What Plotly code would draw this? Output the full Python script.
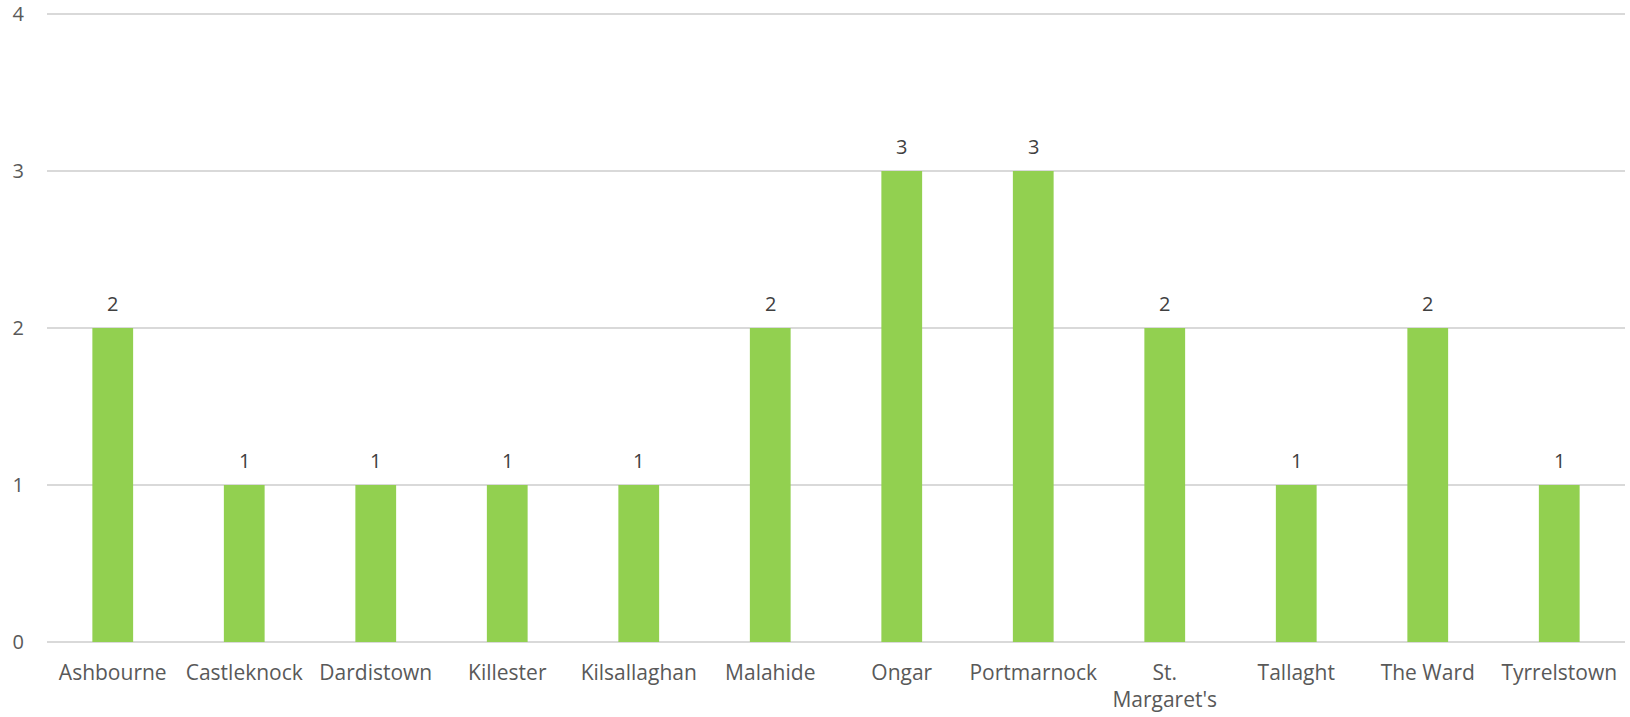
import plotly.graph_objects as go

categories = ["Ashbourne", "Castleknock", "Dardistown", "Killester", "Kilsallaghan",
              "Malahide", "Ongar", "Portmarnock", "St.<br>Margaret's", "Tallaght",
              "The Ward", "Tyrrelstown"]
values = [2, 1, 1, 1, 1, 2, 3, 3, 2, 1, 2, 1]
y_ticks = [0, 1, 2, 3, 4]

FONT = "Open Sans"

fig = go.Figure(go.Bar(
    x=categories, y=values,
    marker=dict(color="#92d050", line=dict(width=0)),
    width=0.31,
    hoverinfo="x+y",
))

for c, v in zip(categories, values):
    fig.add_annotation(
        x=c, y=v, text=str(v), showarrow=False,
        yanchor="middle", yshift=25,
        font=dict(family=FONT, size=20, color="#404040"),
    )

fig.update_layout(
    width=1630, height=717,
    margin=dict(l=47, r=5, t=11, b=75, autoexpand=False),
    paper_bgcolor="white", plot_bgcolor="white",
    showlegend=False,
    bargap=0.69,
)
fig.update_xaxes(
    showgrid=False, showline=False, zeroline=False, automargin=False,
    tickfont=dict(family=FONT, size=21, color="#595959"),
    ticks="", ticklabelstandoff=16,
)
fig.update_yaxes(
    range=[0, 4.02], tickvals=y_ticks, automargin=False,
    showgrid=True, gridcolor="#d9d9d9", gridwidth=1.5,
    zeroline=True, zerolinecolor="#d9d9d9", zerolinewidth=1.5,
    showline=False, ticks="",
    tickfont=dict(family=FONT, size=20, color="#595959"),
    ticklabelstandoff=22,
)

fig.write_html("out.html",
               config={"displayModeBar": False},
               post_script="document.body.style.margin='0';document.body.style.overflow='hidden';")
